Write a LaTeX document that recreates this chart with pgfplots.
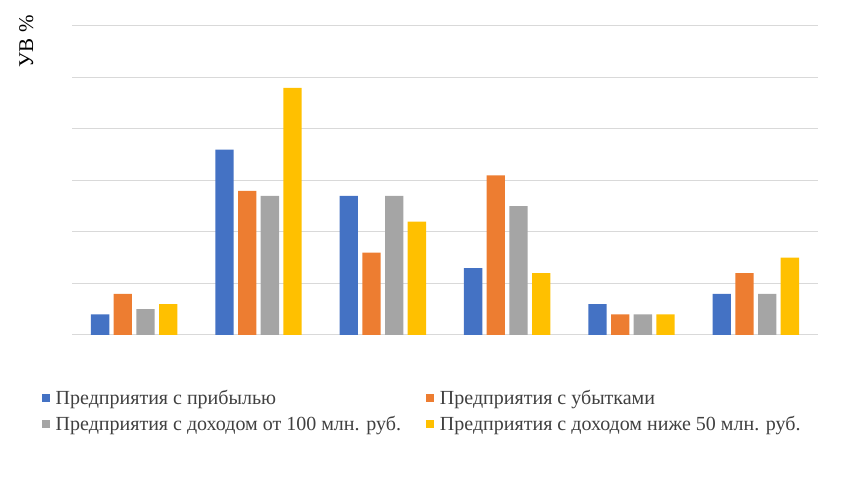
\documentclass[border=0pt]{standalone}
\usepackage{fontspec}
\setmainfont{Liberation Serif}
\usepackage{pgfplots}
\pgfplotsset{compat=1.18}
\definecolor{cblue}{HTML}{4472C4}
\definecolor{corange}{HTML}{ED7D31}
\definecolor{cgray}{HTML}{A5A5A5}
\definecolor{cyellow}{HTML}{FFC000}
\definecolor{cgrid}{HTML}{D9D9D9}
\definecolor{ctext}{HTML}{404040}
\begin{document}
\begin{tikzpicture}
\begin{axis}[
  at={(72pt,144pt)}, anchor=south west,
  scale only axis, width=746pt, height=309pt,
  xmin=-0.5, xmax=5.5, ymin=0, ymax=6,
  ytick={0,1,2,3,4,5,6}, xtick=\empty,
  yticklabels={}, major tick length=0pt,
  ymajorgrids, grid style={cgrid, line width=1pt},
  axis line style={draw=none},
  ybar=4.4pt, bar width=18.3pt,
  legend columns=2,
  legend cell align=left,
  legend image code/.code={\fill[#1, draw=none] (0pt,-4pt) rectangle (8pt,4pt);},
  legend style={draw=none, fill=none, at={(-0.0402,-0.171)}, anchor=north west,
    inner sep=0pt, row sep=6.5pt,
    font=\fontsize{20}{23}\selectfont, text=ctext,
    /tikz/every odd column/.append style={column sep=3.5pt},
    /tikz/every even column/.append style={column sep=23.5pt}},
]
\addplot[fill=cblue, draw=none] coordinates {(0,0.4) (1,3.6) (2,2.7) (3,1.3) (4,0.6) (5,0.8)};
\addplot[fill=corange, draw=none] coordinates {(0,0.8) (1,2.8) (2,1.6) (3,3.1) (4,0.4) (5,1.2)};
\addplot[fill=cgray, draw=none] coordinates {(0,0.5) (1,2.7) (2,2.7) (3,2.5) (4,0.4) (5,0.8)};
\addplot[fill=cyellow, draw=none] coordinates {(0,0.6) (1,4.8) (2,2.2) (3,1.2) (4,0.4) (5,1.5)};
\legend{Предприятия с прибылью, Предприятия с убытками, Предприятия с доходом от 100 млн. руб., Предприятия с доходом ниже 50 млн. руб.}
\end{axis}
\node[rotate=90, font=\fontsize{21}{24}\selectfont] at (26.3pt,437.7pt) {УВ \%};
\pgfresetboundingbox
\useasboundingbox (0,0) rectangle (862pt,479pt);
\end{tikzpicture}
\end{document}
